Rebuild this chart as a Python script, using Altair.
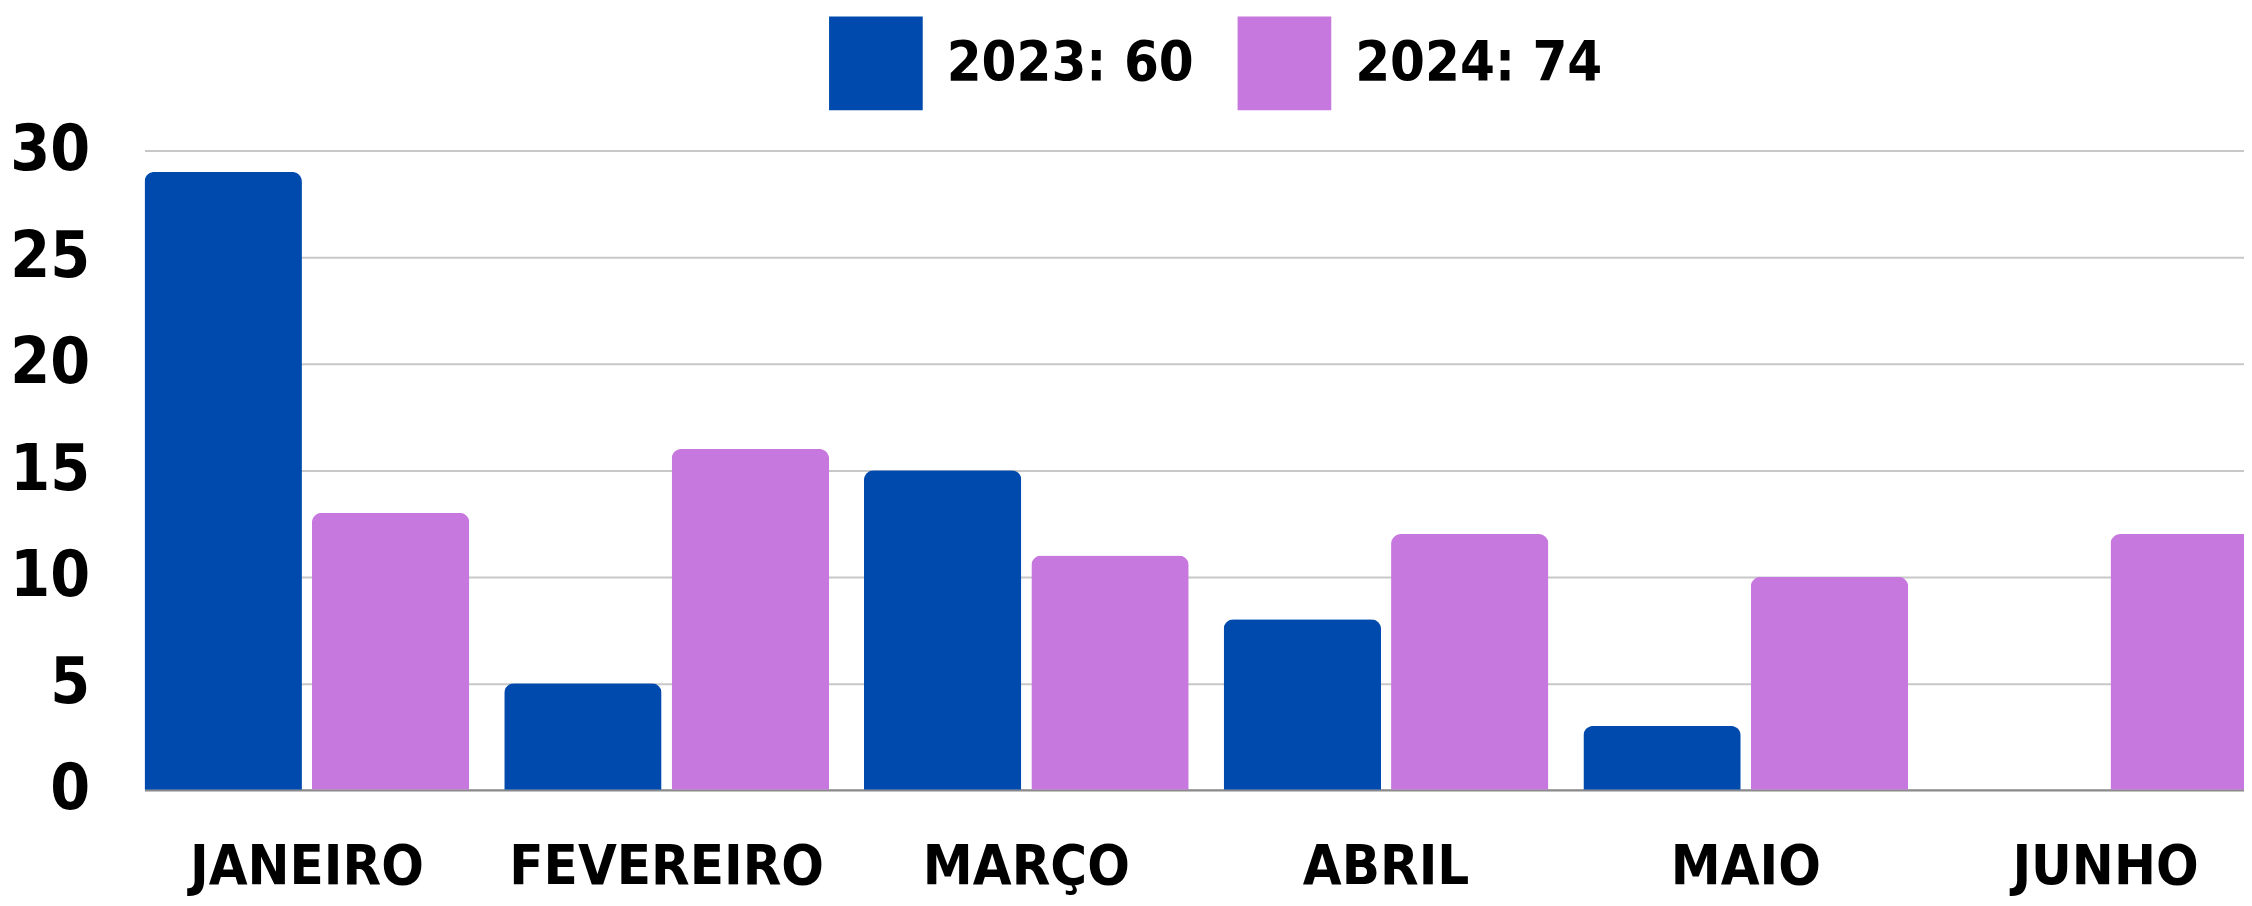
import altair as alt
import pandas as pd

meses = ["JANEIRO", "FEVEREIRO", "MARÇO", "ABRIL", "MAIO", "JUNHO"]
valores_2023 = [29, 5, 15, 8, 3, 0]
valores_2024 = [13, 16, 11, 12, 10, 12]
y_ticks = [0, 5, 10, 15, 20, 25, 30]
cores = ["#004AAD", "#C678DE"]

serie_2023 = f"2023: {sum(valores_2023)}"
serie_2024 = f"2024: {sum(valores_2024)}"

rows = []
for m, a, b in zip(meses, valores_2023, valores_2024):
    rows.append({"mes": m, "serie": serie_2023, "valor": a})
    rows.append({"mes": m, "serie": serie_2024, "valor": b})
df = pd.DataFrame(rows)

FONT = "DejaVu Sans Condensed, sans-serif"

chart = alt.Chart(df).mark_bar(
    cornerRadiusTopLeft=10, cornerRadiusTopRight=10
).encode(
    x=alt.X(
        "mes:N", sort=meses,
        scale=alt.Scale(range=[0, 2131], paddingInner=35 / 361, paddingOuter=0),
        axis=alt.Axis(
            title=None, labelAngle=0, ticks=False, tickSize=0, labelPadding=94,
            labelBaseline="alphabetic", domainColor="#8a8a8a", domainWidth=2,
            labelFont=FONT, labelFontSize=56, labelFontWeight="bold",
            labelColor="black", grid=False, labelOverlap=False, labelLimit=1000,
        ),
    ),
    xOffset=alt.XOffset(
        "serie:N", sort=[serie_2023, serie_2024],
        scale=alt.Scale(paddingInner=10 / 168, paddingOuter=0),
    ),
    y=alt.Y(
        "valor:Q",
        scale=alt.Scale(domain=[0, 30], nice=False),
        axis=alt.Axis(
            title=None, values=y_ticks, domain=False, ticks=False, tickSize=0,
            labelPadding=55, gridColor="#c8c8c8", gridWidth=2,
            labelFont=FONT, labelFontSize=64, labelFontWeight="bold",
            labelColor="black",
        ),
    ),
    color=alt.Color(
        "serie:N",
        scale=alt.Scale(domain=[serie_2023, serie_2024], range=cores),
        legend=alt.Legend(
            title=None, orient="none", legendX=687, legendY=-134.5,
            direction="horizontal", symbolType="square", symbolSize=8836,
            symbolStrokeWidth=0, labelFont=FONT, labelFontSize=56,
            labelFontWeight="bold", labelColor="black", labelOffset=24,
            columnPadding=43, padding=0, labelLimit=1000,
        ),
    ),
).properties(
    width=2107, height=641.5,
    autosize=alt.AutoSizeParams(type="none"),
    padding={"left": 137, "top": 141.5, "right": 0, "bottom": 115},
).configure_view(strokeWidth=0)

chart.save("out.html", embed_options={"renderer": "svg", "actions": False})
